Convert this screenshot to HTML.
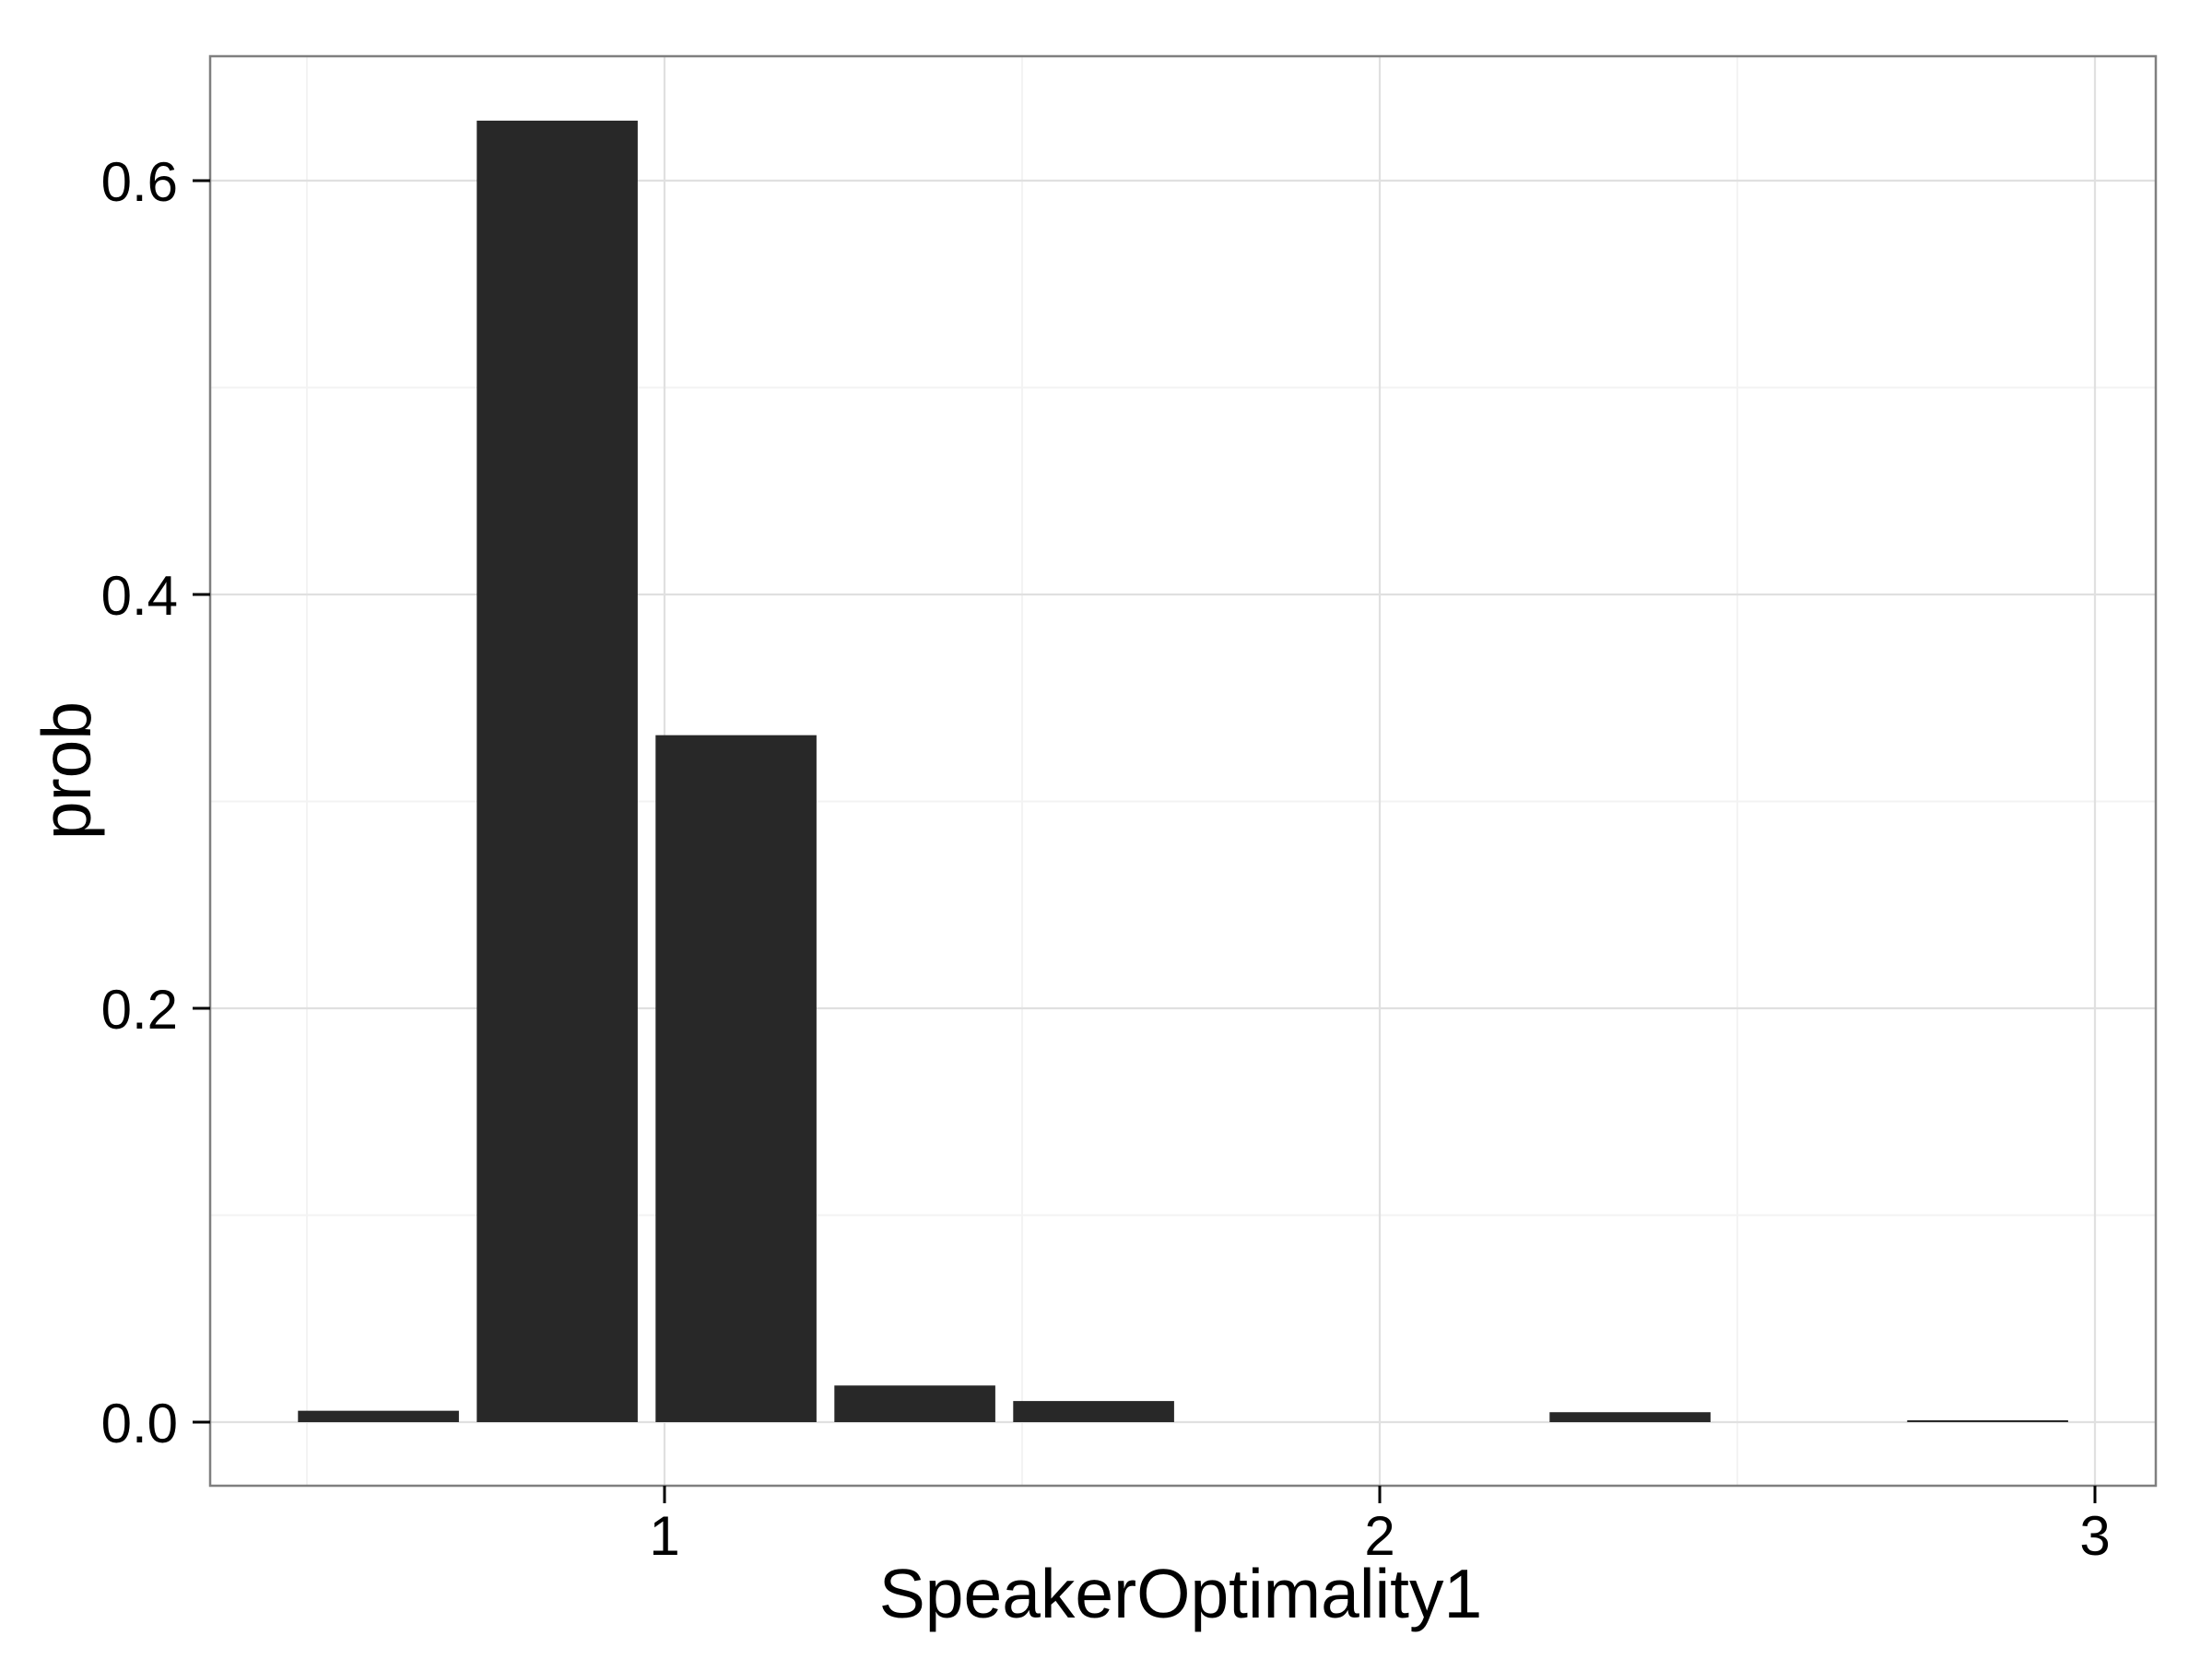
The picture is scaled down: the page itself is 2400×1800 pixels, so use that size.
<!DOCTYPE html>
<html><head><meta charset="utf-8">
<style>
html,body{margin:0;padding:0;background:#fff;}
svg{display:block;font-family:"Liberation Sans",Arial,sans-serif;}
</style></head>
<body>
<svg id="chart" width="2400" height="1800" viewBox="0 0 2400 1800" xmlns="http://www.w3.org/2000/svg">
<rect x="0" y="0" width="2400" height="1800" fill="#fff"/>
<g id="grid"></g>
<g id="bars"></g>
<rect x="228" y="61" width="2111" height="1551" fill="none" stroke="#7f7f7f" stroke-width="2.5"/>
<g id="axes"></g>
<text x="1281" y="1755" font-size="75" text-anchor="middle" fill="#000">SpeakerOptimality1</text>
<text transform="translate(98,836) rotate(-90)" font-size="75" text-anchor="middle" fill="#000">prob</text>
</svg>
<script>
const categories = [0.6, 0.85, 1.1, 1.35, 1.6, 1.85, 2.1, 2.35, 2.6, 2.85];
const probValues = [0.0055, 0.629, 0.332, 0.0177, 0.0102, 0, 0, 0.0048, 0, 0.0009];
const xTicks = [1, 2, 3];
const xTickLabels = ["1", "2", "3"];
const xMinor = [0.5, 1.5, 2.5];
const yTicks = [0, 0.2, 0.4, 0.6];
const yTickLabels = ["0.0", "0.2", "0.4", "0.6"];
const yMinor = [0.1, 0.3, 0.5];
const barWidthUnits = 0.225;

const NS = "http://www.w3.org/2000/svg";
const PL = 228, PR = 2339, PT = 61, PB = 1612;
function xs(v){ return 721 + (v - 1) * 776; }
function ys(v){ return 1543 - v * 2245; }
function mk(tag, attrs, parent){
  const e = document.createElementNS(NS, tag);
  for (const k in attrs) e.setAttribute(k, attrs[k]);
  parent.appendChild(e);
  return e;
}
const grid = document.getElementById('grid');
const bars = document.getElementById('bars');
const axes = document.getElementById('axes');

xMinor.forEach(v => {
  const l = mk('line', {x1: xs(v), x2: xs(v), y1: PT, y2: PB, stroke: '#f3f3f3', 'stroke-width': 2}, grid);
  
  
});
yMinor.forEach(v => {
  const l = mk('line', {x1: PL, x2: PR, y1: ys(v), y2: ys(v), stroke: '#f3f3f3', 'stroke-width': 2}, grid);
  
  
});
xTicks.forEach(v => {
  const l = mk('line', {x1: xs(v), x2: xs(v), y1: PT, y2: PB, stroke: '#e0e0e0', 'stroke-width': 2.2}, grid);
  
  
});
yTicks.forEach(v => {
  const l = mk('line', {x1: PL, x2: PR, y1: ys(v), y2: ys(v), stroke: '#e0e0e0', 'stroke-width': 2.2}, grid);
  
  
});

categories.forEach((c, i) => {
  const v = probValues[i];
  const top = ys(v), base = ys(0);
  const r = mk('rect', {x: xs(c - barWidthUnits / 2), y: top, width: barWidthUnits * 776, height: Math.max(0, base - top), fill: '#282828'}, bars);
  
  
});

xTicks.forEach((v, i) => {
  const t = mk('line', {x1: xs(v), x2: xs(v), y1: PB, y2: PB + 19, stroke: '#000', 'stroke-width': 3}, axes);
  
  
  const tx = mk('text', {x: xs(v), y: 1687, 'font-size': 60, 'text-anchor': 'middle', fill: '#000'}, axes);
  tx.textContent = xTickLabels[i];
  
  
});
yTicks.forEach((v, i) => {
  const t = mk('line', {x1: PL - 19, x2: PL, y1: ys(v), y2: ys(v), stroke: '#000', 'stroke-width': 3}, axes);
  
  
  const tx = mk('text', {x: 193, y: ys(v) + 22, 'font-size': 60, 'text-anchor': 'end', fill: '#000'}, axes);
  tx.textContent = yTickLabels[i];
  
  
});
</script>
</body></html>
